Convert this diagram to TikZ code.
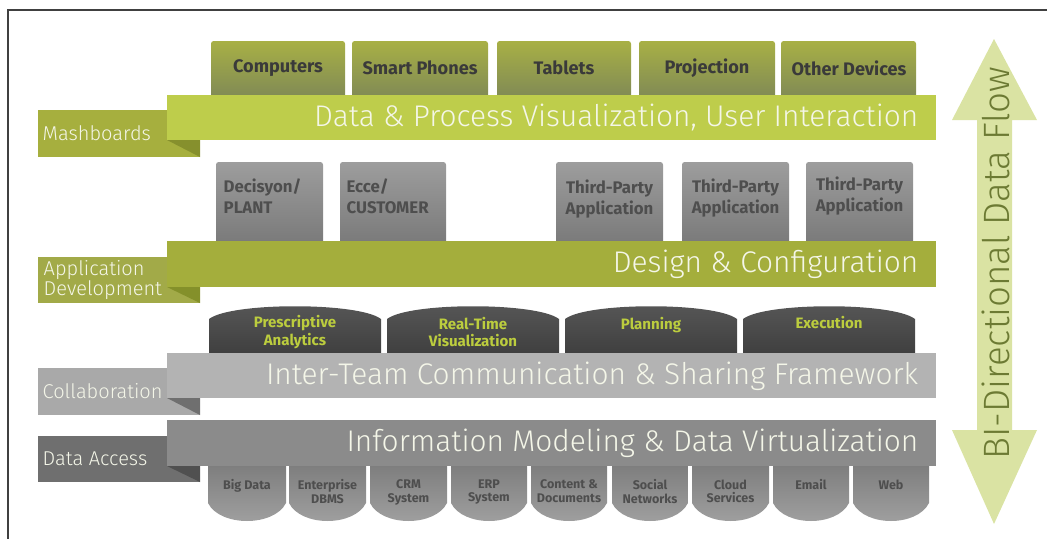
\documentclass[tikz,border=0pt]{standalone}
\usepackage{fontspec}
\setmainfont{Fira Sans}
\newfontfamily\lightfont{Fira Sans Light}
\usetikzlibrary{fit}
\definecolor{devtop}{HTML}{A8B045}
\definecolor{devbot}{HTML}{7E8856}
\definecolor{bandA}{HTML}{BECD4B}
\definecolor{labA}{HTML}{A6AF3E}
\definecolor{foldA}{HTML}{86902D}
\definecolor{bandB}{HTML}{A4AE3C}
\definecolor{labB}{HTML}{A2AA48}
\definecolor{foldB}{HTML}{84902A}
\definecolor{bandC}{HTML}{B3B3B3}
\definecolor{labC}{HTML}{A9A9A9}
\definecolor{foldC}{HTML}{6F6F6F}
\definecolor{bandD}{HTML}{8B8B8B}
\definecolor{labD}{HTML}{6F6F6F}
\definecolor{foldD}{HTML}{505050}
\definecolor{apptop}{HTML}{9D9D9D}
\definecolor{appbot}{HTML}{777777}
\definecolor{darktop}{HTML}{575757}
\definecolor{darkbot}{HTML}{3E3E3E}
\definecolor{lime}{HTML}{BCCD3E}
\definecolor{srctop}{HTML}{7C7C7C}
\definecolor{srcbot}{HTML}{A2A2A2}
\definecolor{arrowfill}{HTML}{DAE3A3}
\definecolor{arrowtext}{HTML}{6C7A33}
\definecolor{boxtext}{HTML}{3A3A3A}
\definecolor{apptext}{HTML}{4E4E4E}
\definecolor{bandtext}{HTML}{F4F6E8}
\tikzset{
  devbox/.style={inner sep=0pt, rounded corners=2pt, top color=devtop, bottom color=devbot},
  devtxt/.style={text=boxtext, font=\bfseries\fontsize{13.6}{15}\selectfont},
  appbox/.style={inner sep=0pt, rounded corners=2pt, top color=apptop, bottom color=appbot},
  apptxt/.style={text=apptext, font=\bfseries\fontsize{12.6}{16}\selectfont},
  band/.style={inner sep=0pt},
  bandtxt/.style={text=bandtext, font=\lightfont\fontsize{22.4}{24}\selectfont, anchor=east},
  labbox/.style={inner sep=0pt},
  labtxt/.style={text=bandtext, font=\lightfont\fontsize{15}{16}\selectfont, anchor=west, align=left},
  darktab/.style={top color=darktop, bottom color=darkbot},
  darktxt/.style={text=lime, font=\bfseries\fontsize{11.3}{13}\selectfont, align=center},
  srctab/.style={top color=srctop, bottom color=srcbot},
  srctxt/.style={text=apptext, font=\bfseries\fontsize{9.4}{10.2}\selectfont, align=center, anchor=north},
}
\begin{document}
\begin{tikzpicture}[x=0.75pt,y=-0.75pt]
\useasboundingbox (0,0) rectangle (1047,539);
% frame
\draw[line width=0.8pt, black!75] (8,539) -- (8,10) -- (1047,10);

% devices
\node[devbox, fit={(211,41)(345,100)}] (comp) {};
\node[devbox, fit={(352,41)(488,100)}] (phone) {};
\node[devbox, fit={(497,41)(631,100)}] (tab) {};
\node[devbox, fit={(639,41)(775,100)}] (proj) {};
\node[devbox, fit={(781,41)(916,100)}] (other) {};
\node[devtxt] at (278,68) (tcomp) {Computers};
\node[devtxt] at (420,68) (tphone) {Smart Phones};
\node[devtxt] at (564,68) (ttab) {Tablets};
\node[devtxt] at (707,68) (tproj) {Projection};
\node[devtxt] at (849,68) (tother) {Other Devices};

% Mashboards layer
\node[labbox, fill=labA, fit={(38,110)(200,157)}] (labA) {};
\fill[foldA] (167,140) -- (200,140) -- (200,157) -- cycle;
\node[band, fill=bandA, fit={(167,95)(936,140)}] (bandA) {};
\node[labtxt] at (38,133) (tlabA) {Mashboards};
\node[bandtxt] at (923,118) (tbandA) {Data \& Process Visualization, User Interaction};

% application boxes
\node[appbox, fit={(216,162)(323,250)}] (dec) {};
\node[appbox, fit={(340,162)(446,250)}] (ecce) {};
\node[appbox, fit={(556,162)(663,250)}] (tp1) {};
\node[appbox, fit={(682,162)(789,250)}] (tp2) {};
\node[appbox, fit={(806,162)(913,250)}] (tp3) {};
\node[apptxt, anchor=north west, align=left] at (219,174) (tdec) {Decisyon/\\PLANT};
\node[apptxt, anchor=north west, align=left] at (342,174) (tecce) {Ecce/\\CUSTOMER};
\node[apptxt, anchor=north, align=center] at (609.5,175) (ttp1) {Third-Party\\Application};
\node[apptxt, anchor=north, align=center] at (735.5,174) (ttp2) {Third-Party\\Application};
\node[apptxt, anchor=north, align=center] at (859.5,172) (ttp3) {Third-Party\\Application};

% Application development layer
\node[labbox, fill=labB, fit={(38,257)(200,303)}] (labB) {};
\fill[foldB] (167,287) -- (200,287) -- (200,303) -- cycle;
\node[band, fill=bandB, fit={(167,241)(936,287)}] (bandB) {};
\node[labtxt, font=\lightfont\fontsize{15}{15.5}\selectfont] at (39,280) (tlabB) {Application\\Development};
\node[bandtxt] at (923,264) (tbandB) {Design \& Configuration};

% dark tabs
\foreach \xa/\xb/\nm in {209/381/pa, 387/559/rt, 565/737/pl, 743/915/ex}{
  \coordinate (\nm-a) at (\xa,356);
  \coordinate (\nm-b) at (\xb,356);
  \shade[darktab] (\nm-a) -- (\xa,319) .. controls (\xa+22,302) and (\xb-22,302) .. (\xb,319) -- (\nm-b) -- cycle;
}
\node[darktxt] at (295,332) (tpa) {Prescriptive\\Analytics};
\node[darktxt] at (473,332) (trt) {Real-Time\\Visualization};
\node[darktxt] at (651,325) (tpl) {Planning};
\node[darktxt] at (829,323) (tex) {Execution};

% Collaboration layer
\node[labbox, fill=labC, fit={(38,368)(200,415)}] (labC) {};
\fill[foldC] (167,398) -- (200,398) -- (200,415) -- cycle;
\node[band, fill=bandC, fit={(167,353)(936,398)}] (bandC) {};
\node[labtxt] at (38,391) (tlabC) {Collaboration};
\node[bandtxt] at (923,376) (tbandC) {Inter-Team Communication \& Sharing Framework};

% source tabs
\foreach \xa/\xb/\nm in {208/286/s1, 289/366/s2, 370/447/s3, 451/527/s4, 531/607/s5, 612/688/s6, 692/769/s7, 773/849/s8, 853/929/s9}{
  \coordinate (\nm-a) at (\xa,462);
  \coordinate (\nm-b) at (\xb,462);
  \shade[srctab] (\nm-a) -- (\xa,503) .. controls (\xa+12,527) and (\xb-12,527) .. (\xb,503) -- (\nm-b) -- cycle;
}

% Data access layer
\node[labbox, fill=labD, fit={(38,436)(200,482)}] (labD) {};
\fill[foldD] (167,466) -- (200,466) -- (200,482) -- cycle;
\node[band, fill=bandD, fit={(167,420)(936,466)}] (bandD) {};
\node[labtxt] at (38,459) (tlabD) {Data Access};
\node[bandtxt] at (923,443) (tbandD) {Information Modeling \& Data Virtualization};

\node[srctxt] at (247,475) (ts1) {Big Data};
\node[srctxt] at (327.5,475) (ts2) {Enterprise\\DBMS};
\node[srctxt] at (408.5,475) (ts3) {CRM\\System};
\node[srctxt] at (489,475) (ts4) {ERP\\System};
\node[srctxt] at (569,475) (ts5) {Content \&\\Documents};
\node[srctxt] at (650,475) (ts6) {Social\\Networks};
\node[srctxt] at (730.5,475) (ts7) {Cloud\\Services};
\node[srctxt] at (811,475) (ts8) {Email};
\node[srctxt] at (891,475) (ts9) {Web};

% bidirectional arrow
\fill[arrowfill] (994,39) -- (1037,120) -- (1012,120) -- (1012,430) -- (1037,430) -- (994,524) -- (952,430) -- (977,430) -- (977,120) -- (952,120) -- cycle;
\node[rotate=90, text=arrowtext, font=\lightfont\fontsize{27.5}{30}\selectfont] at (996,263) (tarrow) {BI-Directional Data Flow};
\end{tikzpicture}
\end{document}
